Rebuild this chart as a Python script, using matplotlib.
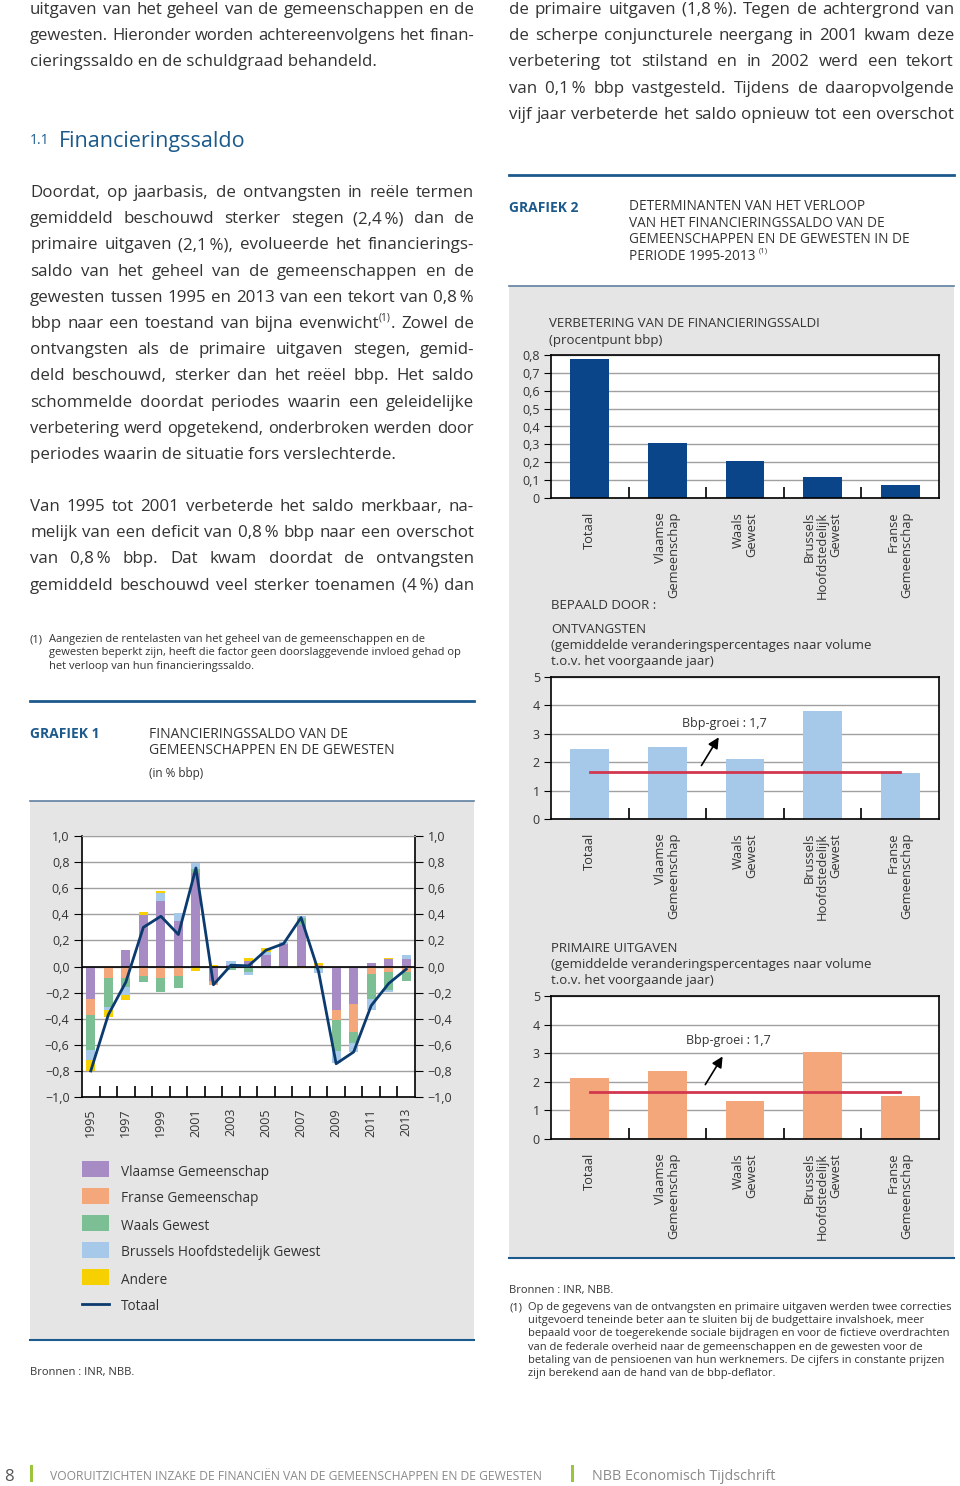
import numpy as np
import matplotlib.pyplot as plt
import matplotlib.patches as mpatches
from matplotlib.transforms import IdentityTransform

plt.rcParams['font.family'] = ['Open Sans', 'DejaVu Sans']

# ---- data: grafiek 1 (in % bbp)
years = list(range(1995, 2014))
vlaamse = [-0.25, 0.0, 0.13, 0.395, 0.505, 0.345, 0.72, -0.11, 0.015, 0.04, 0.09, 0.17, 0.32, 0.0, -0.33, -0.29, 0.025, 0.055, 0.055]
franse = [-0.12, -0.09, -0.09, -0.075, -0.09, -0.075, 0.0, -0.035, 0.0, 0.0, 0.0, 0.0, 0.0, 0.01, -0.08, -0.21, -0.06, -0.045, -0.04]
waals = [-0.27, -0.22, -0.07, -0.04, -0.105, -0.09, 0.025, 0.0, -0.03, -0.04, -0.01, -0.01, 0.05, -0.02, -0.235, -0.085, -0.19, -0.135, -0.07]
brussels = [-0.08, -0.02, -0.06, 0.0, 0.055, 0.065, 0.05, 0.0, 0.03, -0.025, 0.02, 0.015, 0.02, -0.03, -0.095, -0.07, -0.085, -0.015, 0.035]
andere = [-0.08, -0.06, -0.035, 0.02, 0.02, 0.0, -0.035, 0.01, 0.0, 0.025, 0.03, 0.0, -0.01, 0.02, 0.0, 0.0, 0.0, 0.01, 0.0]
totaal = [-0.80, -0.37, -0.12, 0.30, 0.385, 0.245, 0.755, -0.14, 0.01, 0.005, 0.125, 0.175, 0.375, -0.04, -0.745, -0.655, -0.30, -0.13, -0.02]
series_names = ['Vlaamse Gemeenschap', 'Franse Gemeenschap', 'Waals Gewest', 'Brussels Hoofdstedelijk Gewest', 'Andere']

# ---- data: grafiek 2
entities = ['Totaal', 'Vlaamse\nGemeenschap', 'Waals\nGewest', 'Brussels\nHoofdstedelijk\nGewest', 'Franse\nGemeenschap']
verbetering = [0.78, 0.31, 0.205, 0.115, 0.075]
ontvangsten = [2.45, 2.52, 2.12, 3.80, 1.62]
uitgaven = [2.12, 2.37, 1.33, 3.05, 1.52]
bbp_groei = 1.65

# colours
C_PURPLE = '#a78bc4'
C_ORANGE = '#f4a77b'
C_GREEN = '#7dbf95'
C_LBLUE = '#a6c8e9'
C_YELLOW = '#f6d000'
C_NAVY = '#0b3a6e'
C_BLUE = '#0b4589'
C_RED = '#d2374f'
C_HEAD = '#1c5a8c'
C_PANEL = '#e5e5e5'
C_TXT = '#333333'
C_GRID = '#a0a0a0'

W, H = 960, 1486
fig = plt.figure(figsize=(W / 100, H / 100), dpi=100)
fig.patch.set_facecolor('white')
PX = IdentityTransform()
renderer = fig.canvas.get_renderer()

BODY = 12.2
TS = '\u2009'  # thin space, kept inside a word when justifying


def txt(x, y, s, size=BODY, color=C_TXT, va='center_baseline', **kw):
    return fig.text(x, H - y, s, fontsize=size, color=color, transform=PX, va=va, **kw)


def justify(x0, x1, y, line, size=BODY, last=False, min_gap=4.0):
    if last:
        txt(x0, y, line.replace('^', ''), size)
        return
    words = line.split(' ')
    groups = []
    for w in words:
        if '^' in w:
            base, sup, rest = w.split('^')
            parts = [(base, 1.0, 0), (sup, 0.6, 6), (rest, 1.0, 0)]
        else:
            parts = [(w, 1.0, 0)]
        groups.append([(txt(x0, y - dy, s, size * k), k, dy) for s, k, dy in parts if s])

    def measure():
        return [[t.get_window_extent(renderer).width for t, k, dy in g] for g in groups]

    ws = measure()
    total = sum(sum(w) for w in ws)
    n = len(groups)
    avail = x1 - x0 - min_gap * (n - 1)
    if total > avail:
        f = avail / total
        for g in groups:
            for t, k, dy in g:
                t.set_fontsize(size * k * f)
        ws = measure()
        total = sum(sum(w) for w in ws)
    gap = (x1 - x0 - total) / max(n - 1, 1)
    x = x0
    for g, w in zip(groups, ws):
        dx = 0
        for (t, k, dy), wd in zip(g, w):
            t.set_position((x + dx, H - y + dy))
            dx += wd
        x += dx + gap


def axes_px(x0, y0, x1, y1):
    return fig.add_axes([x0 / W, 1 - y1 / H, (x1 - x0) / W, (y1 - y0) / H])


def hline(x0, x1, y, color, lw):
    fig.add_artist(plt.Line2D([x0 / W, x1 / W], [1 - y / H, 1 - y / H], color=color, lw=lw))


def panel(x0, y0, x1, y1):
    fig.add_artist(mpatches.Rectangle((x0 / W, 1 - y1 / H), (x1 - x0) / W, (y1 - y0) / H,
                                      facecolor=C_PANEL, edgecolor='none', zorder=0))


# ---------------- left column text
LX0, LX1 = 30, 474
justify(LX0, LX1, 8, 'uitgaven van het geheel van de gemeenschappen en de')
justify(LX0, LX1, 34, 'gewesten. Hieronder worden achtereenvolgens het finan-')
justify(LX0, LX1, 60, 'cieringssaldo en de schuldgraad behandeld.', last=True)

txt(30, 139, '1.1', 10, C_HEAD)
txt(59, 139, 'Financieringssaldo', 15.5, C_HEAD)

par1 = ['Doordat, op jaarbasis, de ontvangsten in reële termen',
        f'gemiddeld beschouwd sterker stegen (2,4{TS}%) dan de',
        f'primaire uitgaven (2,1{TS}%), evolueerde het financierings-',
        'saldo van het geheel van de gemeenschappen en de',
        f'gewesten tussen 1995 en 2013 van een tekort van 0,8{TS}%',
        'bbp naar een toestand van bijna evenwicht^(1)^. Zowel de',
        'ontvangsten als de primaire uitgaven stegen, gemid-',
        'deld beschouwd, sterker dan het reëel bbp. Het saldo',
        'schommelde doordat periodes waarin een geleidelijke',
        'verbetering werd opgetekend, onderbroken werden door',
        'periodes waarin de situatie fors verslechterde.']
for i, line in enumerate(par1):
    justify(LX0, LX1, 191 + i * 26.2, line, last=(i == len(par1) - 1))

par2 = ['Van 1995 tot 2001 verbeterde het saldo merkbaar, na-',
        f'melijk van een deficit van 0,8{TS}% bbp naar een overschot',
        f'van 0,8{TS}% bbp. Dat kwam doordat de ontvangsten',
        f'gemiddeld beschouwd veel sterker toenamen (4{TS}%) dan']
for i, line in enumerate(par2):
    justify(LX0, LX1, 505 + i * 26.2, line)

foot1 = ['Aangezien de rentelasten van het geheel van de gemeenschappen en de',
         'gewesten beperkt zijn, heeft die factor geen doorslaggevende invloed gehad op',
         'het verloop van hun financieringssaldo.']
txt(30, 638, '(1)', 8)
for i, line in enumerate(foot1):
    txt(49, 638 + i * 13.3, line, 8)

# ---------------- right column text
RX0, RX1 = 509, 954
par3 = [f'de primaire uitgaven (1,8{TS}%). Tegen de achtergrond van',
        'de scherpe conjuncturele neergang in 2001 kwam deze',
        'verbetering tot stilstand en in 2002 werd een tekort',
        f'van 0,1{TS}% bbp vastgesteld. Tijdens de daaropvolgende',
        'vijf jaar verbeterde het saldo opnieuw tot een overschot']
for i, line in enumerate(par3):
    justify(RX0, RX1, 8 + i * 26.2, line)

# ---------------- grafiek 1 frame
hline(30, 474, 701, C_HEAD, 2)
txt(30, 733, 'GRAFIEK 1', 10, C_HEAD, fontweight='bold')
txt(149, 733, 'FINANCIERINGSSALDO VAN DE', 10)
txt(149, 749, 'GEMEENSCHAPPEN EN DE GEWESTEN', 10)
txt(149, 772, '(in % bbp)', 8.5)
panel(30, 801, 474, 1340)
hline(30, 474, 801, '#5f7f9f', 1.2)
hline(30, 474, 1340, C_HEAD, 1.5)

ax1 = axes_px(82, 836, 415, 1097)
x = np.arange(len(years))
stack = [vlaamse, franse, waals, brussels, andere]
colors = [C_PURPLE, C_ORANGE, C_GREEN, C_LBLUE, C_YELLOW]
pos_base = np.zeros(len(years))
neg_base = np.zeros(len(years))
for vals, col in zip(stack, colors):
    v = np.array(vals)
    pos = np.where(v > 0, v, 0)
    neg = np.where(v < 0, v, 0)
    ax1.bar(x, pos, 0.52, bottom=pos_base, color=col, zorder=2)
    ax1.bar(x, neg, 0.52, bottom=neg_base, color=col, zorder=2)
    pos_base += pos
    neg_base += neg
ax1.plot(x, totaal, color=C_NAVY, lw=2, zorder=3)
ax1.set_xlim(-0.5, len(years) - 0.5)
ax1.set_ylim(-1, 1)
yt = np.arange(-1.0, 1.01, 0.2)
ax1.set_yticks(yt)
ax1.set_yticklabels([('−' if v < -1e-9 else '') + f'{abs(v):.1f}'.replace('.', ',') for v in yt])
ax1.yaxis.grid(True, color=C_GRID, lw=1, zorder=1)
ax1.axhline(0, color='black', lw=1.2, zorder=2.5)
ax1.tick_params(axis='y', which='both', left=True, right=True, labelleft=True, labelright=True,
                direction='out', length=6, labelsize=9, labelcolor=C_TXT, pad=3)
ax1.set_xticks(x[::2])
ax1.set_xticklabels([str(y) for y in years[::2]], rotation=90, fontsize=9, color=C_TXT)
ax1.set_xticks(np.arange(0.5, len(years) - 1, 1), minor=True)
ax1.tick_params(axis='x', which='major', length=0, pad=8)
ax1.tick_params(axis='x', which='minor', direction='in', length=8, width=1.2)
for s in ['left', 'right', 'bottom']:
    ax1.spines[s].set_color('black')
    ax1.spines[s].set_linewidth(1.2)
ax1.spines['top'].set_color(C_GRID)

# legend of grafiek 1
for i, (name, col) in enumerate(zip(series_names, colors)):
    yy = 1169 + i * 27
    fig.add_artist(mpatches.Rectangle((82 / W, 1 - (yy + 8) / H), 27 / W, 16 / H,
                                      facecolor=col, edgecolor='none'))
    txt(121, yy + 1, name, 9.8)
yy = 1169 + 5 * 27
hline(82, 109, yy, C_NAVY, 2)
txt(121, yy + 1, 'Totaal', 9.8)
txt(30, 1371, 'Bronnen : INR, NBB.', 8)

# ---------------- grafiek 2 frame
hline(509, 954, 175, C_HEAD, 2)
txt(509, 206, 'GRAFIEK 2', 10, C_HEAD, fontweight='bold')
for i, line in enumerate(['DETERMINANTEN VAN HET VERLOOP', 'VAN HET FINANCIERINGSSALDO VAN DE',
                          'GEMEENSCHAPPEN EN DE GEWESTEN IN DE']):
    txt(629, 205 + i * 16.3, line, 9.8)
t = txt(629, 254, 'PERIODE 1995-2013', 9.8)
wd = t.get_window_extent(renderer).width
txt(629 + wd + 3, 250, '(1)', 5.5)
panel(509, 286, 954, 1258)
hline(509, 954, 286, '#5f7f9f', 1.2)
hline(509, 954, 1258, C_HEAD, 1.5)


def cat_axes(y0, y1, vals, col, ymax, step, decimals):
    ax = axes_px(551, y0, 939, y1)
    xi = np.arange(len(entities))
    ax.bar(xi, vals, 0.5, color=col, zorder=2)
    ax.set_xlim(-0.5, len(entities) - 0.5)
    ax.set_ylim(0, ymax)
    ticks = np.arange(0, ymax + step / 2, step)
    ax.set_yticks(ticks)
    if decimals:
        ax.set_yticklabels(['0' if v == 0 else f'{v:.1f}'.replace('.', ',') for v in ticks])
    else:
        ax.set_yticklabels([f'{v:.0f}' for v in ticks])
    ax.yaxis.grid(True, color=C_GRID, lw=1, zorder=1)
    ax.tick_params(axis='y', direction='out', length=5, labelsize=9, labelcolor=C_TXT, pad=3)
    ax.set_xticks(xi)
    ax.set_xticklabels(entities, rotation=90, fontsize=9.3, color=C_TXT, va='top',
                       multialignment='right', linespacing=1.0)
    ax.set_xticks(np.arange(0.5, len(entities) - 1, 1), minor=True)
    ax.tick_params(axis='x', which='major', length=0, pad=10)
    ax.tick_params(axis='x', which='minor', direction='in', length=8, width=1.2)
    for s in ax.spines.values():
        s.set_color('black')
        s.set_linewidth(1.2)
    return ax


txt(549, 322, 'VERBETERING VAN DE FINANCIERINGSSALDI', 9.5)
txt(549, 339, '(procentpunt bbp)', 9.5)
cat_axes(355, 498, verbetering, C_BLUE, 0.8, 0.1, True)

txt(551, 604, 'BEPAALD DOOR :', 9.5)
txt(551, 628, 'ONTVANGSTEN', 9.5)
txt(551, 644, '(gemiddelde veranderingspercentages naar volume', 9.5)
txt(551, 660, 't.o.v. het voorgaande jaar)', 9.5)
ax_o = cat_axes(677, 819, ontvangsten, C_LBLUE, 5, 1, False)
ax_o.plot([0, len(entities) - 1], [bbp_groei, bbp_groei], color=C_RED, lw=2, zorder=3)
ax_o.annotate('', xy=(1.68, 2.96), xytext=(1.42, 1.80),
              arrowprops=dict(arrowstyle='-|>', color='black', lw=1.2, mutation_scale=16), zorder=4)
ax_o.text(1.19, 3.38, 'Bbp-groei : 1,7', fontsize=9, color=C_TXT, va='center', ha='left', zorder=4)

txt(551, 947, 'PRIMAIRE UITGAVEN', 9.5)
txt(551, 963, '(gemiddelde veranderingspercentages naar volume', 9.5)
txt(551, 979, 't.o.v. het voorgaande jaar)', 9.5)
ax_u = cat_axes(996, 1139, uitgaven, C_ORANGE, 5, 1, False)
ax_u.plot([0, len(entities) - 1], [bbp_groei, bbp_groei], color=C_RED, lw=2, zorder=3)
ax_u.annotate('', xy=(1.73, 2.97), xytext=(1.47, 1.82),
              arrowprops=dict(arrowstyle='-|>', color='black', lw=1.2, mutation_scale=16), zorder=4)
ax_u.text(1.24, 3.43, 'Bbp-groei : 1,7', fontsize=9, color=C_TXT, va='center', ha='left', zorder=4)

txt(509, 1289, 'Bronnen : INR, NBB.', 8)
foot2 = ['Op de gegevens van de ontvangsten en primaire uitgaven werden twee correcties',
         'uitgevoerd teneinde beter aan te sluiten bij de budgettaire invalshoek, meer',
         'bepaald voor de toegerekende sociale bijdragen en voor de fictieve overdrachten',
         'van de federale overheid naar de gemeenschappen en de gewesten voor de',
         'betaling van de pensioenen van hun werknemers. De cijfers in constante prijzen',
         'zijn berekend aan de hand van de bbp-deflator.']
txt(509, 1306, '(1)', 8)
for i, line in enumerate(foot2):
    txt(528, 1306 + i * 13.2, line, 8)

# ---------------- footer
txt(4, 1475, '8', 12, '#555555')
fig.add_artist(mpatches.Rectangle((30 / W, 1 - 1482 / H), 3 / W, 17 / H, facecolor='#9bc53d', edgecolor='none'))
txt(50, 1475, 'VOORUITZICHTEN INZAKE DE FINANCIËN VAN DE GEMEENSCHAPPEN EN DE GEWESTEN', 8.7, '#8a8a8a')
fig.add_artist(mpatches.Rectangle((571 / W, 1 - 1482 / H), 3 / W, 17 / H, facecolor='#9bc53d', edgecolor='none'))
txt(592, 1475, 'NBB Economisch Tijdschrift', 10.4, '#8a8a8a')

fig.savefig('out.png', dpi=100)
